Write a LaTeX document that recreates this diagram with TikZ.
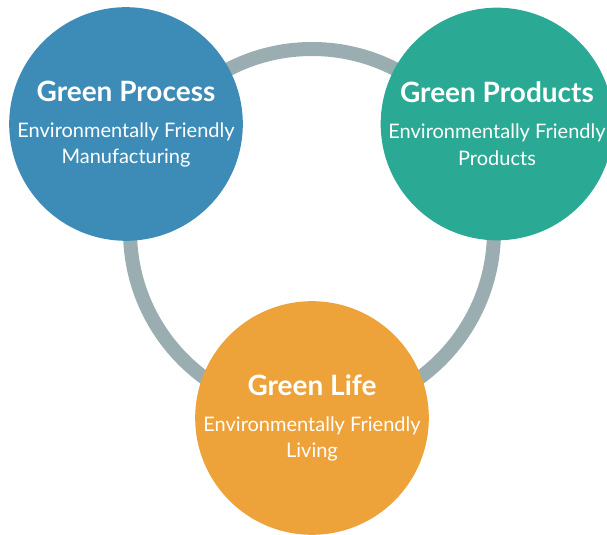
\documentclass[tikz,border=0pt]{standalone}
\usepackage{fontspec}
\setmainfont{Lato}
\definecolor{procblue}{HTML}{3D8CB8}
\definecolor{prodteal}{HTML}{2AA994}
\definecolor{lifeorange}{HTML}{EDA23A}
\definecolor{ringgray}{HTML}{9AADB0}
\newcommand{\headline}[1]{{\fontsize{21}{24}\selectfont\bfseries #1}\\[7pt]}

\begin{document}
\begin{tikzpicture}[x=0.75pt,y=0.75pt,
        disc/.style={circle, inner sep=0pt, minimum size=174pt,
                        text=white, align=center,
                        font=\fontsize{15}{20}\selectfont},
        ring/.style={draw=ringgray, line width=10.5pt}]
    \useasboundingbox (0,0) rectangle (607,535);
    \coordinate (hub) at (312,304);
    \draw[ring] (hub) circle (182);
    \node[disc, fill=procblue] (process) at (126,411)
        {\headline{Green Process}Environmentally Friendly\\Manufacturing};
    \node[disc, fill=prodteal] (products) at (497,411)
        {\headline{Green Products}Environmentally Friendly\\Products};
    \node[disc, fill=lifeorange] (life) at (312,117)
        {\headline{Green Life}Environmentally Friendly\\Living};
\end{tikzpicture}
\end{document}
